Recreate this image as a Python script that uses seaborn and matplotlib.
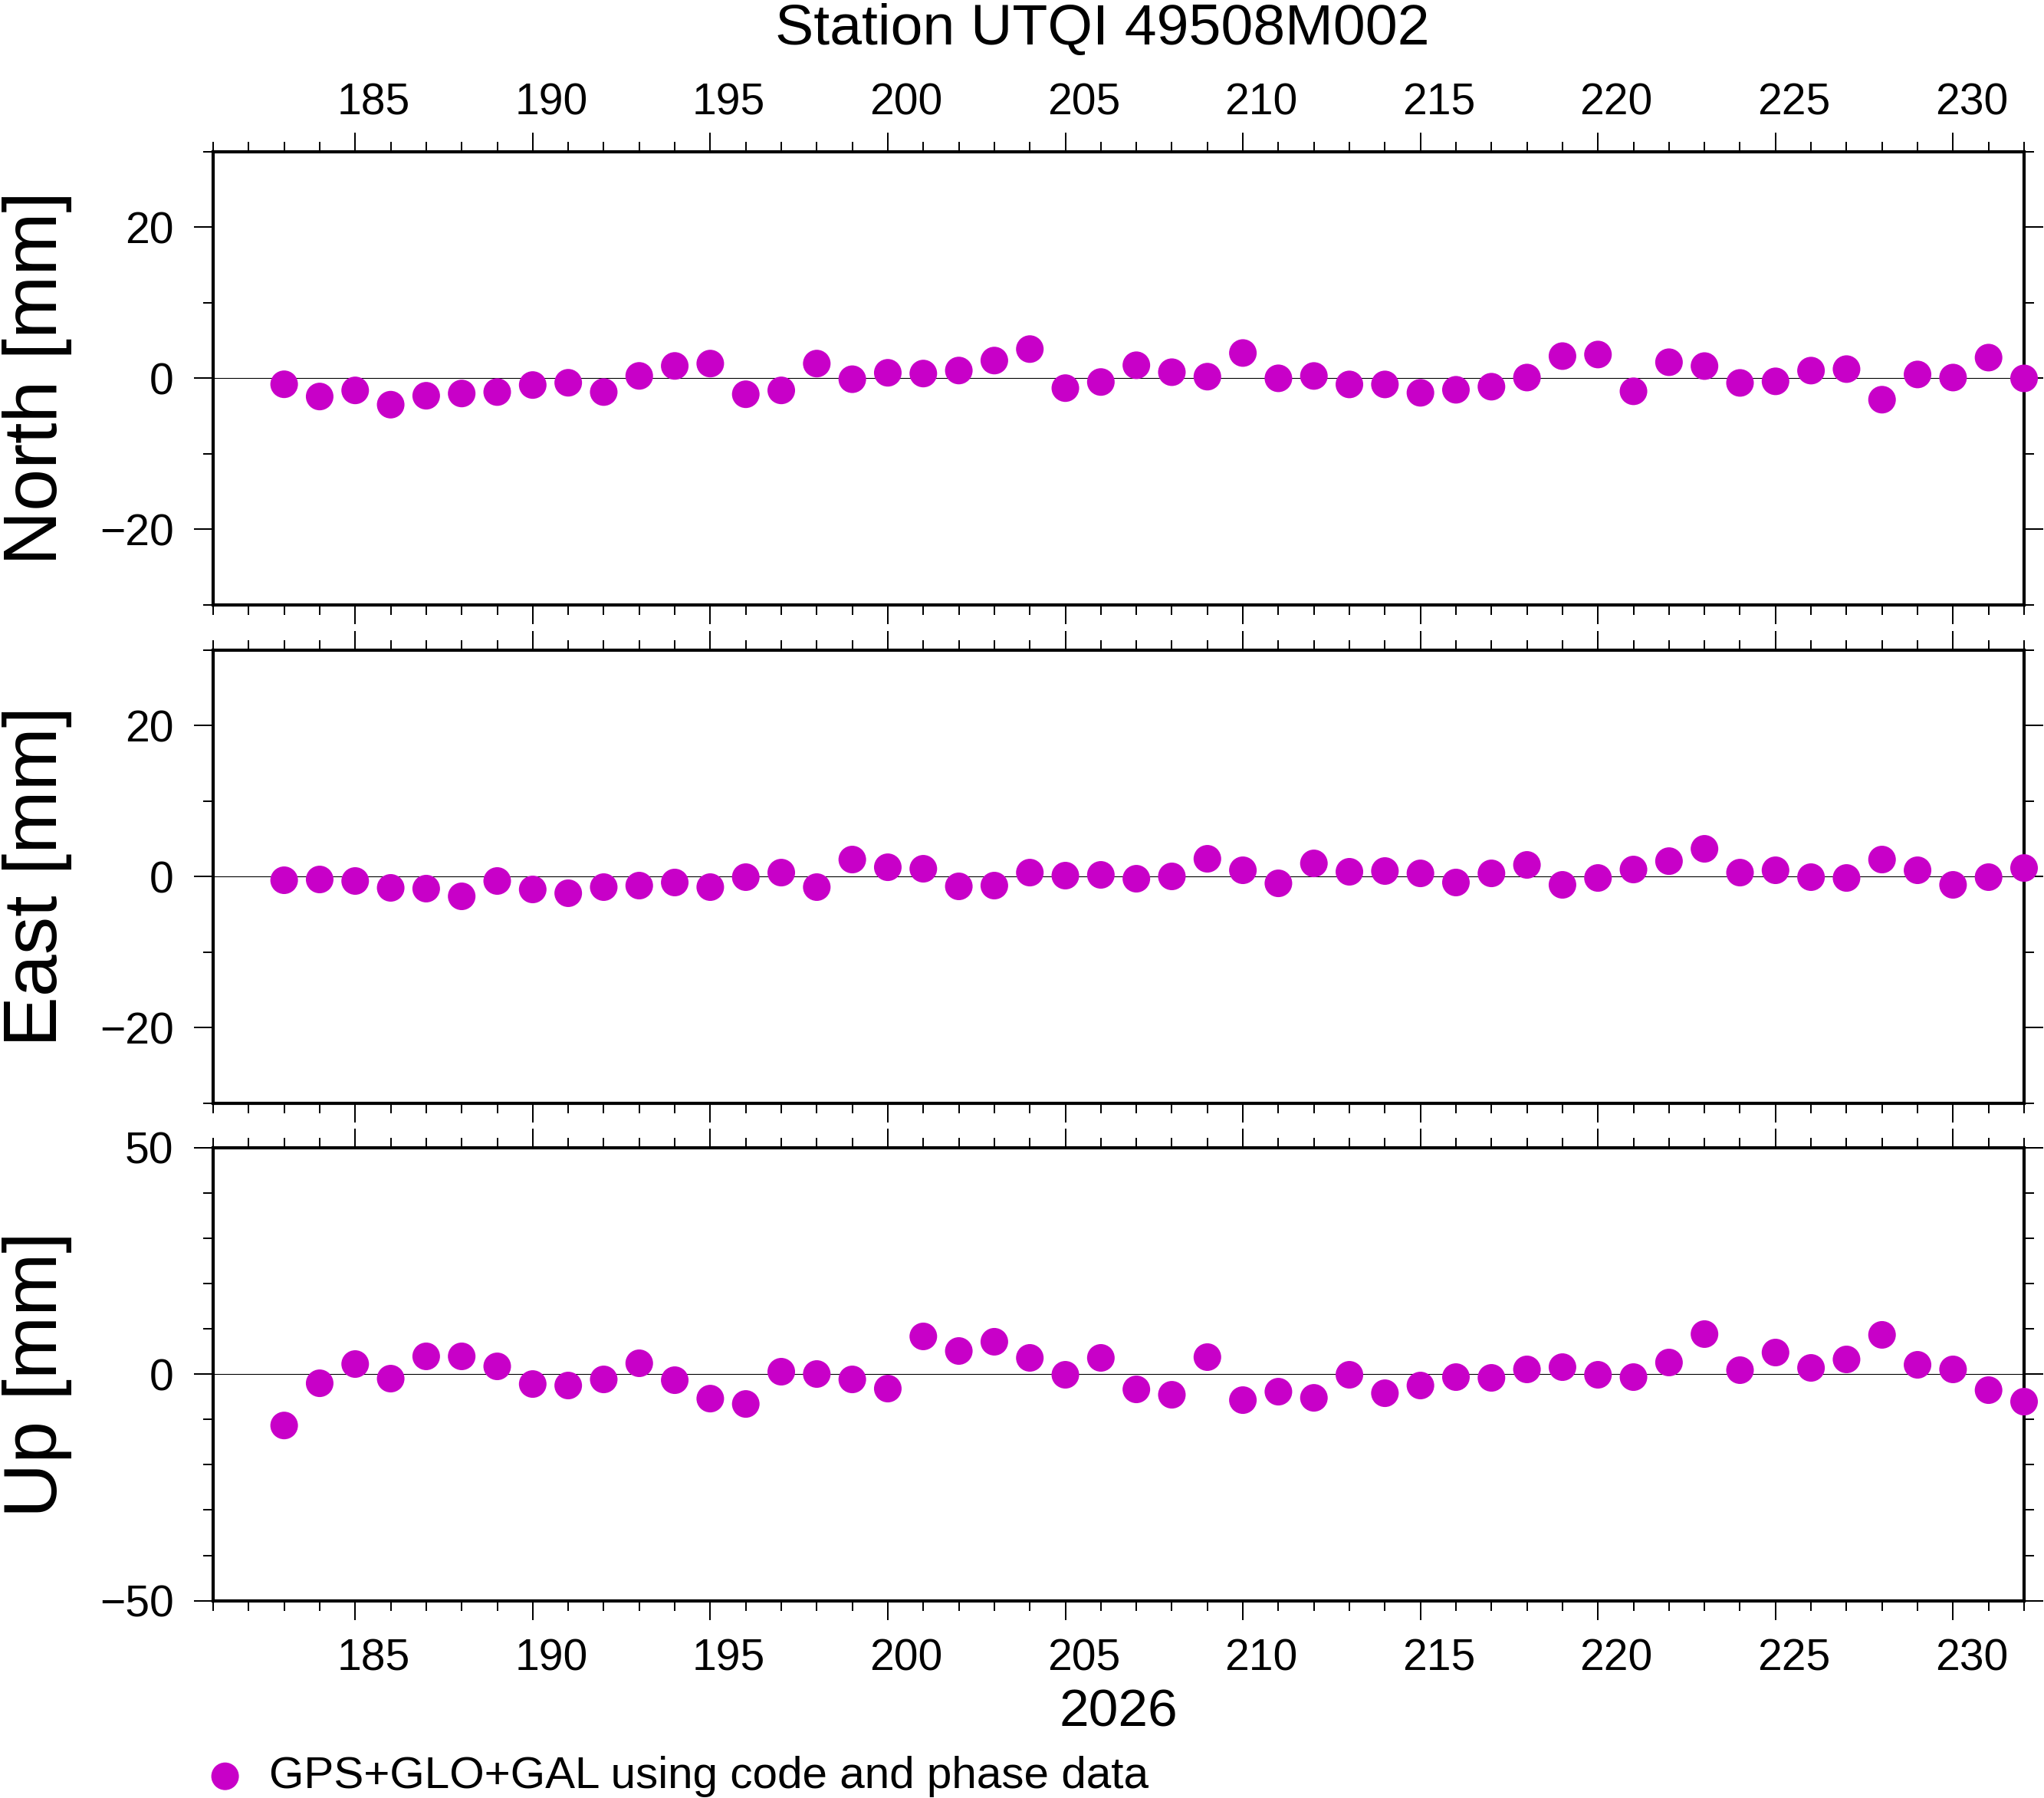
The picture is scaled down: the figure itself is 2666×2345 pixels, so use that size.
import numpy as np
import pandas as pd
import matplotlib
matplotlib.use("Agg")
import matplotlib.pyplot as plt
import seaborn as sns
from matplotlib.ticker import MultipleLocator
from matplotlib.transforms import ScaledTranslation

# ---------------- data ----------------
days = list(range(183, 233))  # day of year 2026

north = [-0.81, -2.43, -1.62, -3.51, -2.33, -2.03, -1.84, -0.91, -0.61, -1.84,
         0.30, 1.62, 1.93, -2.13, -1.62, 1.93, -0.14, 0.71, 0.61, 1.01,
         2.33, 3.85, -1.32, -0.51, 1.71, 0.79, 0.20, 3.33, -0.02, 0.29,
         -0.83, -0.83, -1.94, -1.54, -1.13, 0.08, 2.92, 3.13, -1.74, 2.11,
         1.60, -0.63, -0.42, 1.00, 1.20, -2.85, 0.49, 0.08, 2.72, -0.03]

east = [-0.49, -0.39, -0.59, -1.50, -1.60, -2.62, -0.59, -1.71, -2.21, -1.40,
        -1.20, -0.79, -1.40, -0.08, 0.52, -1.40, 2.25, 1.23, 1.03, -1.30,
        -1.20, 0.52, 0.12, 0.22, -0.29, 0.02, 2.35, 0.83, -0.90, 1.74,
        0.63, 0.73, 0.42, -0.79, 0.42, 1.54, -1.10, -0.19, 0.93, 2.04,
        3.67, 0.52, 0.83, -0.08, -0.19, 2.25, 0.83, -1.10, -0.08, 1.13]

up = [-11.33, -2.01, 2.23, -0.99, 3.93, 3.93, 1.72, -2.18, -2.51, -1.16,
      2.40, -1.33, -5.40, -6.58, 0.54, 0.03, -1.16, -3.19, 8.33, 5.11,
      7.15, 3.59, -0.14, 3.59, -3.36, -4.55, 3.76, -5.73, -3.87, -5.23,
      -0.14, -4.21, -2.51, -0.65, -0.82, 1.05, 1.55, -0.14, -0.65, 2.57,
      8.84, 0.88, 4.77, 1.38, 3.25, 8.67, 2.06, 1.05, -3.53, -6.07]

components = ["North", "East", "Up"]
ylabels = ["North [mm]", "East [mm]", "Up [mm]"]
ylimits = [(-30, 30), (-30, 30), (-50, 50)]
ymajor = [20, 20, 50]
title = "Station UTQI 49508M002"
year_label = "2026"
legend_label = "GPS+GLO+GAL using code and phase data"
xlimits = (181, 232)

df = pd.DataFrame({"day": days, "North": north, "East": east, "Up": up})

# ---------------- style ----------------
sns.set_style("ticks")
plt.rcParams["font.family"] = ["Liberation Sans", "DejaVu Sans"]
plt.rcParams["axes.unicode_minus"] = True
for key in ("text.color", "axes.labelcolor", "xtick.color", "ytick.color",
            "axes.edgecolor"):
    plt.rcParams[key] = "black"

W, H = 2666, 2345
DPI = 200
fig = plt.figure(figsize=(W / DPI, H / DPI), dpi=DPI)

color = "#C800C8"
left = 278 / W
width = (2640 - 278) / W
panel_h = 591 / H
bottoms = [1 - 788.7 / H, 1 - 1438.7 / H, 1 - 2087.7 / H]

tick_fs = 20.5
axes = []
for i, comp in enumerate(components):
    ax = fig.add_axes([left, bottoms[i], width, panel_h])
    axes.append(ax)
    sns.scatterplot(data=df, x="day", y=comp, ax=ax, color=color, s=168,
                    edgecolor="none", linewidth=0, legend=False,
                    clip_on=False, zorder=5,
                    label=legend_label if i == 0 else None)
    ax.axhline(0, color="black", lw=0.4, zorder=1)
    ax.set_xlim(*xlimits)
    ax.set_ylim(*ylimits[i])
    ax.xaxis.set_major_locator(MultipleLocator(5))
    ax.xaxis.set_minor_locator(MultipleLocator(1))
    ax.yaxis.set_major_locator(MultipleLocator(ymajor[i]))
    ax.yaxis.set_minor_locator(MultipleLocator(10))
    for sp in ax.spines.values():
        sp.set_visible(True)
        sp.set_linewidth(1.5)
        sp.set_color("black")
    ax.tick_params(which="both", direction="out", top=True, right=True,
                   bottom=True, left=True, width=0.72, color="black",
                   labelsize=tick_fs, labelcolor="black")
    ax.tick_params(which="major", length=9)
    ax.tick_params(which="minor", length=4.7)
    ax.tick_params(axis="x", which="major", pad=8.6)
    ax.tick_params(axis="y", which="major", pad=9.5)
    ax.tick_params(axis="x", labeltop=(i == 0), labelbottom=(i == 2))
    ax.tick_params(axis="y", labelleft=True, labelright=False)
    ax.set_ylabel(ylabels[i], fontsize=35.5, color="black")
    ax.yaxis.set_label_coords(-0.0779, 0.5)
    ax.set_xlabel("")

axes[2].set_xlabel(year_label, fontsize=25, color="black")
axes[2].xaxis.set_label_coords(0.5, -0.1932)

fig.suptitle(title, x=1438 / W, y=1 - 58 / H, va="baseline", ha="center",
             fontsize=27.1, color="black")

handles, labels = axes[0].get_legend_handles_labels()
fig.legend(handles, labels, loc="center left",
           bbox_to_anchor=(265 / W, 1 - 2317 / H), frameon=False,
           borderpad=0, borderaxespad=0, handlelength=0.98,
           handletextpad=0.5, fontsize=21.0, scatterpoints=1,
           labelcolor="black")

# shift day annotations to the middle of each day interval (GMT style)
fig.canvas.draw()
for ax in (axes[0], axes[2]):
    for tick in ax.xaxis.get_major_ticks():
        for lbl, dy in ((tick.label1, 0.0), (tick.label2, -0.065)):
            lbl.set_transform(lbl.get_transform() +
                              ScaledTranslation(0.12, dy, fig.dpi_scale_trans))

fig.savefig("out.png", dpi=DPI, facecolor="white")
